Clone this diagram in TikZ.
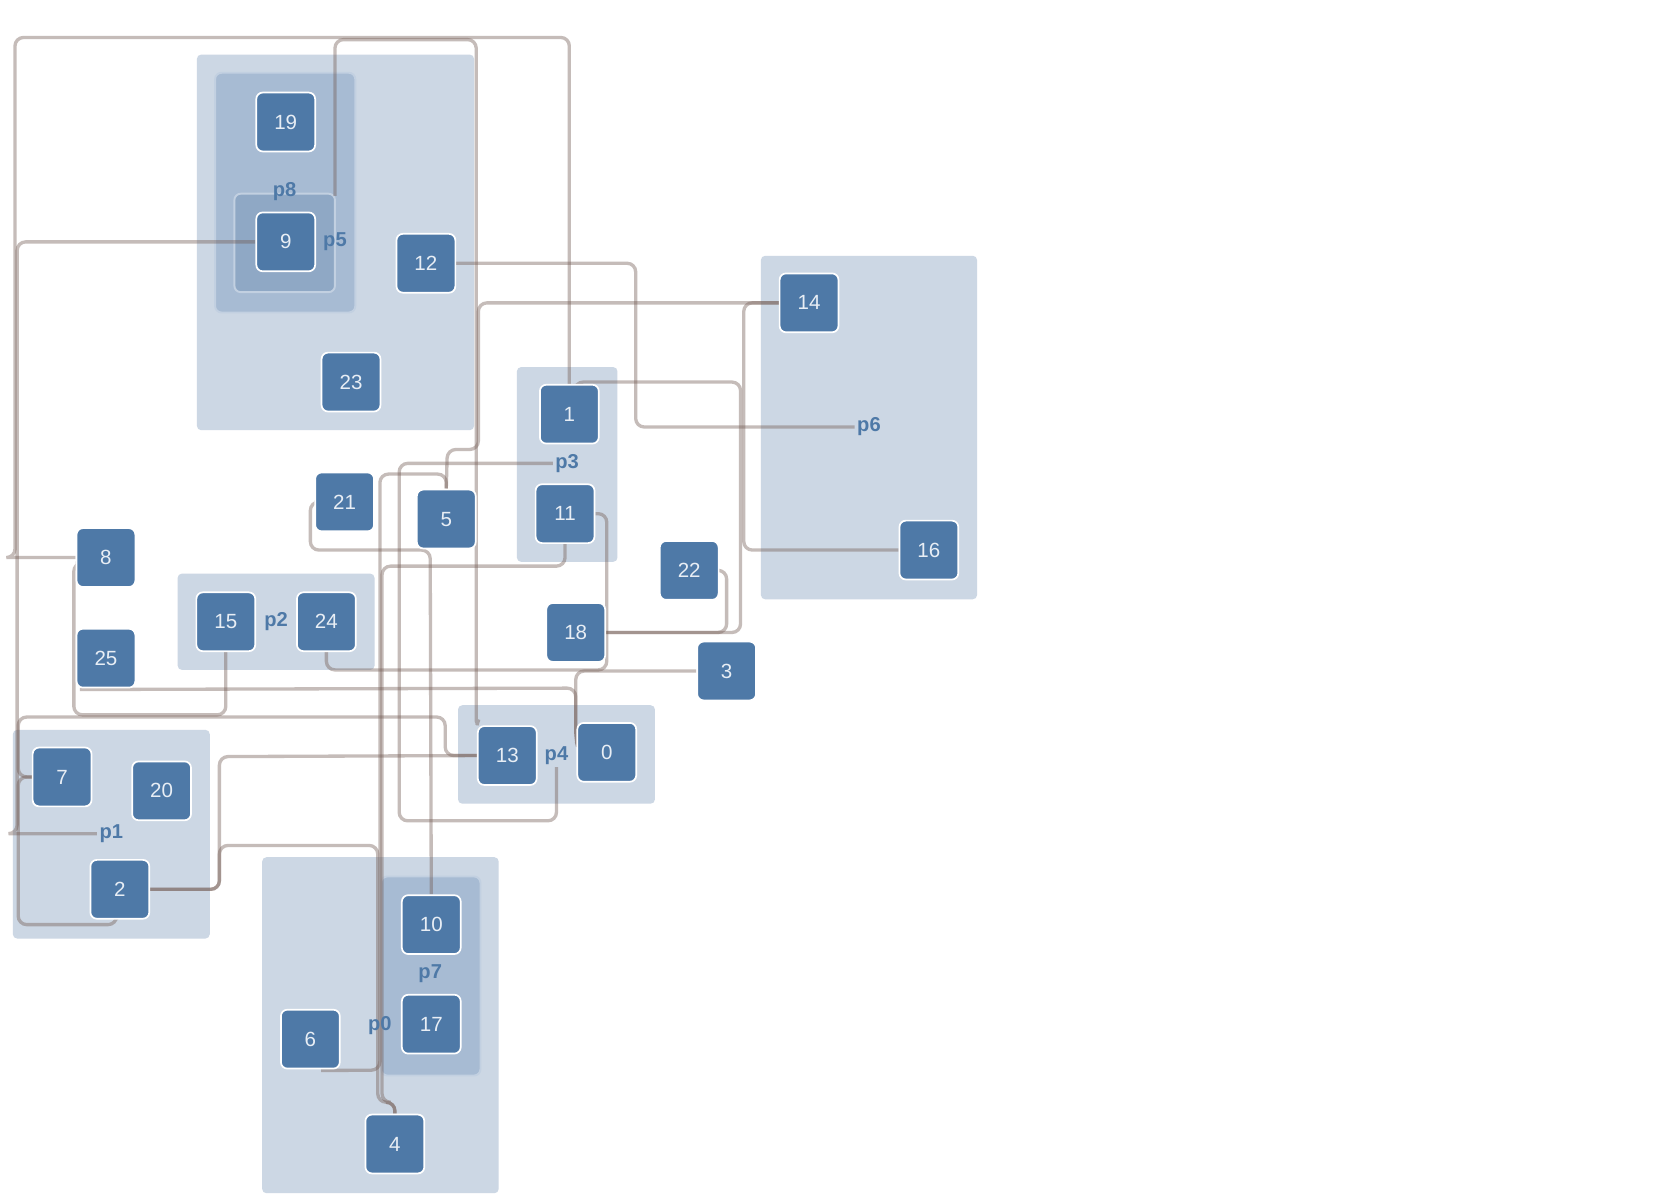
\documentclass[tikz,border=0pt]{standalone}
\usepackage{fontspec}
\setmainfont{Liberation Sans}
\usetikzlibrary{calc}
\definecolor{nodeblue}{HTML}{4E79A7}
\definecolor{grp}{HTML}{CCD7E4}
\definecolor{grpb}{HTML}{A7BBD3}
\definecolor{grpc}{HTML}{8FA8C5}
\definecolor{grpline}{HTML}{C2D0E1}
\definecolor{linkc}{RGB}{112,88,80}
\definecolor{ntext}{HTML}{E8EEF5}
\pgfdeclarelayer{grouplayer}
\pgfdeclarelayer{linklayer}
\pgfsetlayers{grouplayer,linklayer,main}
\tikzset{
  vnode/.style={rectangle, rounded corners=3pt, fill=nodeblue, draw=white, line width=0.8pt,
    minimum width=27.5pt, minimum height=27.5pt, inner sep=0pt, text=ntext,
    font=\fontsize{9.6}{11}\selectfont},
  grpbox/.style={fill=grp, rounded corners=2pt},
  subgrp/.style={fill=grpb, draw=grpline, line width=0.9pt, rounded corners=3pt},
  subsubgrp/.style={fill=grpc, draw=grpline, line width=0.9pt, rounded corners=3pt},
  glabel/.style={text=nodeblue, font=\bfseries\fontsize{9.4}{11}\selectfont, inner sep=1pt},
  link/.style={draw=linkc, draw opacity=0.4, line width=1.55pt, rounded corners=4pt},
}
\begin{document}
\begin{tikzpicture}[x=0.5pt,y=-0.5pt]
\useasboundingbox (0,0) rectangle (1568,1125);

% groups
\begin{pgfonlayer}{grouplayer}
\fill[white] (0,0) rectangle (1568,1125);
\fill[grpbox] (184,51) rectangle (443,402);
\filldraw[subgrp] (201,68) rectangle (332,292);
\filldraw[subsubgrp] (219,181) rectangle (313,273);
\fill[grpbox] (483,343) rectangle (577,525);
\fill[grpbox] (711,239) rectangle (913,560);
\fill[grpbox] (166,536) rectangle (350,626);
\fill[grpbox] (428,659) rectangle (612,751);
\fill[grpbox] (12,682) rectangle (196,877);
\fill[grpbox] (245,801) rectangle (466,1115);
\filldraw[subgrp] (356,819) rectangle (449,1005);
\end{pgfonlayer}

% nodes
\node[vnode] (n19) at (267,114) {19};
\node[vnode] (n9)  at (267,226) {9};
\node[vnode] (n12) at (398,246) {12};
\node[vnode] (n23) at (328,357) {23};
\node[vnode] (n1)  at (532,387) {1};
\node[vnode] (n14) at (756,283) {14};
\node[vnode] (n16) at (868,514) {16};
\node[vnode] (n21) at (322,469) {21};
\node[vnode] (n5)  at (417,485) {5};
\node[vnode] (n11) at (528,480) {11};
\node[vnode] (n22) at (644,533) {22};
\node[vnode] (n8)  at (99,521) {8};
\node[vnode] (n15) at (211,581) {15};
\node[vnode] (n24) at (305,581) {24};
\node[vnode] (n18) at (538,591) {18};
\node[vnode] (n3)  at (679,627) {3};
\node[vnode] (n25) at (99,615) {25};
\node[vnode] (n13) at (474,706) {13};
\node[vnode] (n0)  at (567,703) {0};
\node[vnode] (n7)  at (58,726) {7};
\node[vnode] (n20) at (151,739) {20};
\node[vnode] (n2)  at (112,831) {2};
\node[vnode] (n10) at (403,864) {10};
\node[vnode] (n17) at (403,957) {17};
\node[vnode] (n6)  at (290,971) {6};
\node[vnode] (n4)  at (369,1069) {4};

% group labels
\node[glabel] (lp8) at (266,179) {p8};
\node[glabel] (lp5) at (313,226) {p5};
\node[glabel] (lp3) at (530,433) {p3};
\node[glabel] (lp6) at (812,399) {p6};
\node[glabel] (lp2) at (258,581) {p2};
\node[glabel] (lp4) at (520,706) {p4};
\node[glabel] (lp1) at (104,779) {p1};
\node[glabel] (lp0) at (355,958) {p0};
\node[glabel] (lp7) at (402,910) {p7};
\coordinate (p5top) at (313,183);

% connectors
\begin{pgfonlayer}{linklayer}
\draw[link] (n1.north) -- (532,35) -- (14,35) -- (14,521) [sharp corners] -- (11,521) -- (n8.west);
\draw[link] (n9.west) -- (16,226) -- (16,779) [sharp corners] -- (11,779) -- (lp1.west);
\draw[link] (p5top) -- (313,37) -- (445,37) -- (445,680) -- (n13.north west);
\draw[link] (n14.west) -- (447,283) -- (447,420) -- (418,420) -- (n5.north);
\draw[link] (n5.north) -- (417,443) -- (355,443) -- (355,1000) -- ($(n6.south)+(10,1)$);
\draw[link] (n11.south) -- (528,529) -- (357,529) -- (357,1030) -- (369,1030) -- (n4.north);
\draw[link] (n2.east) -- (205,831) -- (205,790) -- (353,790) -- (353,1030) -- (369,1030) -- (n4.north);
\draw[link] (n2.east) -- (205,831) -- (205,707) -- (n13.west);
\draw[link] (n13.west) -- (416,706) -- (416,670) -- (17,670) -- (17,726) -- (n7.west);
\draw[link] (n7.west) -- (17,726) -- (17,864) -- (109,864) -- ($(n2.south)+(-3,0)$);
\draw[link] ($(n8.west)+(0,5)$) -- (69,526) -- (69,668) -- (211,668) -- (n15.south);
\draw[link] ($(n25.south west)+(4,1)$) -- (538,643) -- (538,690) -- ($(n0.west)+(0,-10)$);
\draw[link] (n3.west) -- (538,627) -- (538,690) -- ($(n0.west)+(0,-10)$);
\draw[link] (n11.east) -- (567,480) -- (567,626) -- (305,626) -- (n24.south);
\draw[link] ($(n1.north)+(5,0)$) -- (537,357) -- (692,357) -- (692,591) -- (n18.east);
\draw[link] (n22.east) -- (679,533) -- (679,591) -- (n18.east);
\draw[link] (n14.west) -- (695,283) -- (695,514) -- (n16.west);
\draw[link] (n12.east) -- (594,246) -- (594,399) -- (lp6.west);
\draw[link] (lp3.west) -- (373,433) -- (373,767) -- (520,767) -- (lp4.south);
\draw[link] (n21.west) -- (290,469) -- (290,514) -- (402,514) -- (n10.north);
\end{pgfonlayer}
\end{tikzpicture}
\end{document}
